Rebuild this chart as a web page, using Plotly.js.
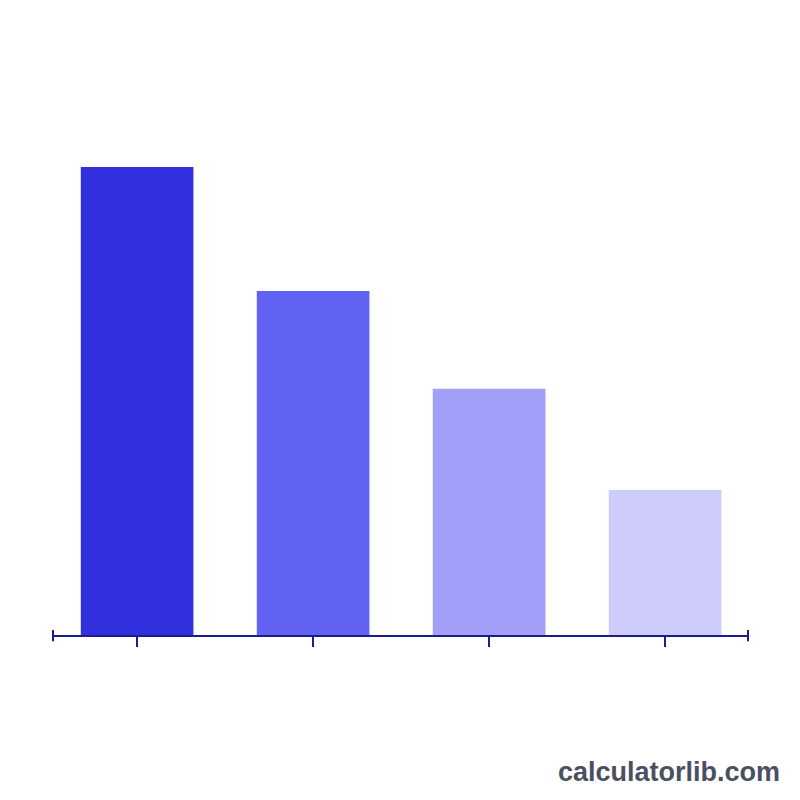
<!DOCTYPE html>
<html>
<head>
<meta charset="utf-8">
<script src="https://cdn.plot.ly/plotly-3.0.1.min.js"></script>
<style>html,body{margin:0;padding:0;background:#ffffff;}#chart{width:800px;height:800px;}</style>
</head>
<body>
<div id="chart"></div>
<script>
var categories = ["A", "B", "C", "D"];
var values = [100, 73.5, 52.6, 31];
var barColors = ["#3330E0", "#6262F2", "#A19FF8", "#CDCCFA"];
var watermark = "calculatorlib.com";

var axisColor = "#1c1c8a";

var trace = {
  type: "bar",
  x: categories,
  y: values,
  marker: { color: barColors, line: { width: 0 } },
  width: 0.64,
  hoverinfo: "none"
};

var layout = {
  width: 800,
  height: 800,
  margin: { l: 53, r: 52, t: 75, b: 165 },
  paper_bgcolor: "#ffffff",
  plot_bgcolor: "#ffffff",
  showlegend: false,
  xaxis: {
    type: "category",
    range: [-0.478, 3.471],
    showticklabels: false,
    ticks: "outside",
    ticklen: 10,
    tickwidth: 2,
    tickcolor: axisColor,
    showline: true,
    linecolor: axisColor,
    linewidth: 2,
    showgrid: false,
    zeroline: false,
    fixedrange: true
  },
  yaxis: {
    range: [0, 119.66],
    visible: false,
    showgrid: false,
    zeroline: false,
    fixedrange: true
  },
  shapes: [
    { type: "line", xref: "paper", yref: "paper", x0: 0, x1: 0, y0: -0.011, y1: 0.009, line: { color: axisColor, width: 2 } },
    { type: "line", xref: "paper", yref: "paper", x0: 1, x1: 1, y0: -0.011, y1: 0.009, line: { color: axisColor, width: 2 } }
  ],
  annotations: [
    {
      text: "<b>" + watermark + "</b>",
      xref: "paper", yref: "paper",
      x: 1.049, y: -0.245,
      xanchor: "right", yanchor: "middle",
      showarrow: false,
      font: { family: "Liberation Sans, Arial, sans-serif", size: 27, color: "#4b5060" }
    }
  ]
};

Plotly.newPlot("chart", [trace], layout, { displayModeBar: false, staticPlot: true });
</script>
</body>
</html>
